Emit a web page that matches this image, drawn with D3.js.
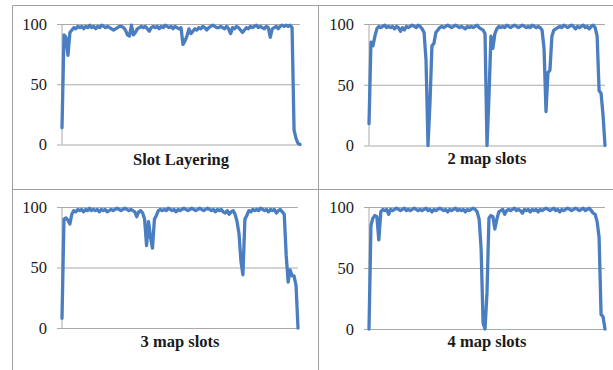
<!DOCTYPE html>
<html>
<head>
<meta charset="utf-8">
<script src="https://cdn.jsdelivr.net/npm/d3@7"></script>
<style>
  body { margin: 0; background: #fff; }
  svg text { font-family: "Liberation Serif", "Times New Roman", serif; fill: #1a1a1a; }
  .grid line { stroke: #aaaaaa; stroke-width: 1; }
  .frame { stroke: #a0a0a0; stroke-width: 1; }
</style>
</head>
<body>
<svg width="613" height="370"></svg>
<script>
// utilisation (%), same number of samples each
var slotLayering = [14, 91, 89, 74, 93, 95, 97, 96, 98, 97, 98, 96, 98, 97, 99, 97, 98, 96, 98, 97,
    99, 98, 97, 98, 97, 96, 95, 96, 97, 98, 98, 97, 95, 91, 90, 99, 91, 93, 96, 97,
    98, 97, 98, 96, 94, 97, 98, 97, 98, 96, 98, 97, 99, 98, 97, 98, 96, 98, 97, 96,
    97, 83, 86, 90, 96, 92, 94, 96, 95, 97, 96, 98, 97, 95, 97, 98, 99, 98, 97, 97,
    98, 97, 96, 98, 96, 92, 97, 96, 98, 97, 95, 93, 95, 97, 96, 98, 97, 98, 99, 97,
    98, 97, 96, 98, 97, 89, 96, 97, 98, 96, 98, 99, 98, 99, 98, 99, 97, 12, 5, 1, 0];

var mapSlots2 = [18, 85, 82, 90, 96, 98, 97, 98, 99, 97, 98, 97, 98, 96, 98, 97, 94, 97, 95, 98,
    97, 98, 99, 98, 97, 99, 98, 96, 93, 70, 0, 35, 82, 84, 93, 95, 97, 98, 97, 98,
    99, 98, 97, 98, 99, 98, 97, 98, 97, 96, 98, 97, 98, 97, 98, 99, 97, 96, 95, 92,
    0, 40, 90, 80, 92, 96, 98, 97, 98, 97, 99, 98, 97, 98, 99, 98, 97, 98, 99, 98,
    97, 98, 97, 99, 98, 97, 98, 97, 95, 80, 28, 60, 62, 90, 95, 96, 97, 98, 97, 99,
    98, 97, 98, 99, 98, 96, 98, 97, 98, 99, 97, 98, 96, 98, 99, 97, 90, 45, 43, 25, 0];

var mapSlots3 = [8, 90, 91, 89, 86, 94, 97, 96, 98, 97, 98, 96, 98, 97, 99, 97, 98, 97, 98, 96,
    98, 97, 98, 96, 97, 98, 97, 98, 99, 98, 97, 98, 99, 98, 97, 98, 97, 96, 92, 96,
    97, 95, 90, 68, 88, 75, 66, 90, 93, 97, 98, 97, 98, 97, 99, 98, 97, 98, 96, 98,
    97, 98, 99, 98, 97, 98, 99, 98, 97, 98, 99, 98, 97, 98, 99, 98, 97, 98, 96, 98,
    97, 98, 96, 95, 97, 94, 96, 97, 94, 88, 78, 55, 44, 90, 93, 97, 96, 98, 97, 98,
    97, 99, 98, 97, 98, 96, 98, 97, 98, 95, 97, 98, 96, 94, 60, 38, 48, 43, 43, 35, 0];

var mapSlots4 = [0, 85, 91, 93, 92, 73, 96, 98, 97, 98, 94, 98, 97, 98, 99, 98, 97, 98, 99, 97,
    98, 97, 98, 99, 98, 97, 98, 97, 98, 99, 97, 98, 96, 98, 97, 98, 99, 98, 97, 98,
    96, 98, 97, 98, 99, 97, 98, 97, 98, 96, 98, 97, 98, 99, 98, 96, 90, 66, 5, 0,
    30, 91, 93, 92, 82, 90, 96, 97, 98, 94, 97, 98, 97, 98, 99, 97, 98, 97, 95, 98,
    97, 98, 96, 98, 97, 98, 96, 98, 97, 98, 99, 98, 97, 98, 99, 97, 98, 96, 98, 97,
    98, 99, 98, 97, 98, 99, 98, 97, 98, 99, 97, 98, 99, 97, 95, 94, 88, 75, 12, 10, 0];

var panelTitles = ["Slot Layering", "2 map slots", "3 map slots", "4 map slots"];
var yTicks = [0, 50, 100];

var series = [slotLayering, mapSlots2, mapSlots3, mapSlots4];

var svg = d3.select('svg');
var svgWidth = +svg.attr('width');
var svgHeight = +svg.attr('height');

// frame around the 2x2 grid (open on the right and at the bottom)
var frameL = 12.5, frameT = 5.5, frameMidX = 318.5, frameMidY = 189.5;
var frame = svg.append('g');
[[frameL, frameT, svgWidth, frameT],
 [frameL, frameMidY, svgWidth, frameMidY],
 [frameL, frameT, frameL, svgHeight],
 [frameMidX, frameT, frameMidX, svgHeight]].forEach(function(l) {
    frame.append('line').attr('class', 'frame')
        .attr('x1', l[0]).attr('y1', l[1]).attr('x2', l[2]).attr('y2', l[3]);
});

// plot boxes for each panel: left, right, top (100), bottom (0), title baseline
var boxes = [
    {l: 62, r: 300, t: 24, b: 144.5, title: 165},
    {l: 369, r: 605, t: 24, b: 145.5, title: 164},
    {l: 62, r: 298, t: 207, b: 328, title: 347},
    {l: 369, r: 605, t: 207, b: 329, title: 347}
];

boxes.forEach(function(box, k) {
    var values = series[k];
    var w = box.r - box.l;

    var xScale = d3.scaleLinear()
        .domain([0, values.length - 1])
        .range([box.l, box.r]);

    var yScale = d3.scaleLinear()
        .domain([0, 100])
        .range([box.b, box.t]);

    var panel = svg.append('g');

    // gridlines double as tick marks, poking 5px left of the plot
    var axisG = panel.append('g')
        .attr('class', 'grid')
        .attr('transform', 'translate(' + (box.l - 5) + ',0)')
        .call(d3.axisLeft(yScale).tickValues(yTicks).tickSize(-(w + 5)).tickPadding(10));
    axisG.select('.domain').remove();
    axisG.selectAll('text')
        .style('font-size', '16.5px')
        .style('font-family', '"Liberation Serif", serif')
        .attr('fill', '#1a1a1a');

    panel.append('line')
        .attr('x1', box.l).attr('x2', box.l)
        .attr('y1', yScale(0)).attr('y2', yScale(100))
        .attr('stroke', '#aaaaaa');

    var line = d3.line()
        .x(function(d, i) { return xScale(i); })
        .y(function(d) { return yScale(d); });

    panel.append('path')
        .datum(values)
        .attr('d', line)
        .attr('fill', 'none')
        .attr('stroke', '#4a7ec0')
        .attr('stroke-width', 3.3)
        .attr('stroke-linejoin', 'round')
        .attr('stroke-linecap', 'round');

    panel.append('text')
        .attr('x', (box.l + box.r) / 2)
        .attr('y', box.title)
        .attr('text-anchor', 'middle')
        .style('font-size', '16.5px')
        .style('font-weight', 'bold')
        .text(panelTitles[k]);
});
</script>
</body>
</html>
